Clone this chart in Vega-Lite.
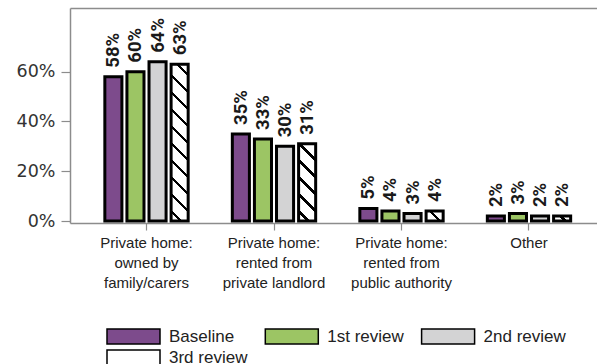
{
  "$schema": "https://vega.github.io/schema/vega-lite/v6.json",
  "autosize": "none",
  "width": 527,
  "height": 215,
  "padding": {"left": 70, "top": 8, "right": 0, "bottom": 141},
  "background": "white",
  "config": {
    "view": {"stroke": null},
    "axis": {"domainColor": "#8c8c8c", "domainWidth": 1.5, "tickColor": "#8c8c8c", "tickWidth": 1.2, "grid": false, "title": null}
  },
  "data": {
    "values": [
      {"cat": "Private home:|owned by|family/carers", "review": "Baseline", "v": 0.58},
      {"cat": "Private home:|owned by|family/carers", "review": "1st review", "v": 0.60},
      {"cat": "Private home:|owned by|family/carers", "review": "2nd review", "v": 0.64},
      {"cat": "Private home:|owned by|family/carers", "review": "3rd review", "v": 0.63},
      {"cat": "Private home:|rented from|private landlord", "review": "Baseline", "v": 0.35},
      {"cat": "Private home:|rented from|private landlord", "review": "1st review", "v": 0.33},
      {"cat": "Private home:|rented from|private landlord", "review": "2nd review", "v": 0.30},
      {"cat": "Private home:|rented from|private landlord", "review": "3rd review", "v": 0.31},
      {"cat": "Private home:|rented from|public authority", "review": "Baseline", "v": 0.05},
      {"cat": "Private home:|rented from|public authority", "review": "1st review", "v": 0.04},
      {"cat": "Private home:|rented from|public authority", "review": "2nd review", "v": 0.03},
      {"cat": "Private home:|rented from|public authority", "review": "3rd review", "v": 0.04},
      {"cat": "Other", "review": "Baseline", "v": 0.02},
      {"cat": "Other", "review": "1st review", "v": 0.03},
      {"cat": "Other", "review": "2nd review", "v": 0.02},
      {"cat": "Other", "review": "3rd review", "v": 0.02}
    ]
  },
  "encoding": {
    "x": {"field": "cat", "type": "nominal", "sort": null,
      "scale": {"paddingInner": 0, "paddingOuter": 0.0667, "align": 0.75}},
    "xOffset": {"field": "review", "type": "nominal",
      "sort": ["Baseline", "1st review", "2nd review", "3rd review"],
      "scale": {"paddingInner": 0.227, "paddingOuter": 1.011}},
    "y": {"field": "v", "type": "quantitative",
      "scale": {"domain": [-0.008, 0.856], "nice": false, "zero": false},
      "axis": {"values": [0, 0.2, 0.4, 0.6], "format": ".0%", "labelFont": "DejaVu Sans", "labelFontSize": 17.5, "labelColor": "#333333", "tickSize": 9, "labelPadding": 6}}
  },
  "layer": [
    {
      "mark": {"type": "bar", "stroke": "black", "strokeWidth": 3, "strokeJoin": "miter"},
      "encoding": {
        "x": {"field": "cat", "type": "nominal", "sort": null,
          "axis": {"orient": "bottom", "labelAngle": 0, "labelExpr": "split(datum.label, '|')", "labelFont": "Liberation Sans", "labelFontSize": 15, "labelLineHeight": 20, "labelColor": "#222222", "tickSize": 7, "labelPadding": 5, "labelBaseline": "top", "labelLimit": 200}},
        "fill": {
          "field": "review", "type": "nominal",
          "scale": {"domain": ["Baseline", "1st review", "2nd review", "3rd review"], "range": ["#7d4b8c", "#9cc564", "#d3d3d4", "#ffffff"]},
          "condition": [
            {"test": "datum.review === '3rd review' && datum.cat === 'Private home:|owned by|family/carers'",
             "value": {"gradient": "linear", "x1": 0, "y1": 1, "x2": 0.1189, "y2": -0.0956, "stops": [
               {"offset": 0, "color": "white"},
               {"offset": 0.0461, "color": "white"}, {"offset": 0.0461, "color": "black"}, {"offset": 0.0662, "color": "black"}, {"offset": 0.0662, "color": "white"},
               {"offset": 0.1439, "color": "white"}, {"offset": 0.1439, "color": "black"}, {"offset": 0.1641, "color": "black"}, {"offset": 0.1641, "color": "white"},
               {"offset": 0.2418, "color": "white"}, {"offset": 0.2418, "color": "black"}, {"offset": 0.2619, "color": "black"}, {"offset": 0.2619, "color": "white"},
               {"offset": 0.3397, "color": "white"}, {"offset": 0.3397, "color": "black"}, {"offset": 0.3598, "color": "black"}, {"offset": 0.3598, "color": "white"},
               {"offset": 0.4375, "color": "white"}, {"offset": 0.4375, "color": "black"}, {"offset": 0.4577, "color": "black"}, {"offset": 0.4577, "color": "white"},
               {"offset": 0.5354, "color": "white"}, {"offset": 0.5354, "color": "black"}, {"offset": 0.5556, "color": "black"}, {"offset": 0.5556, "color": "white"},
               {"offset": 0.6333, "color": "white"}, {"offset": 0.6333, "color": "black"}, {"offset": 0.6534, "color": "black"}, {"offset": 0.6534, "color": "white"},
               {"offset": 0.7311, "color": "white"}, {"offset": 0.7311, "color": "black"}, {"offset": 0.7513, "color": "black"}, {"offset": 0.7513, "color": "white"},
               {"offset": 0.8290, "color": "white"}, {"offset": 0.8290, "color": "black"}, {"offset": 0.8492, "color": "black"}, {"offset": 0.8492, "color": "white"},
               {"offset": 0.9269, "color": "white"}, {"offset": 0.9269, "color": "black"}, {"offset": 0.9470, "color": "black"}, {"offset": 0.9470, "color": "white"},
               {"offset": 1, "color": "white"}]}},
            {"test": "datum.review === '3rd review' && datum.cat === 'Private home:|rented from|private landlord'",
             "value": {"gradient": "linear", "x1": 0, "y1": 1, "x2": 0.2566, "y2": -0.1639, "stops": [
               {"offset": 0, "color": "white"},
               {"offset": 0.0850, "color": "white"}, {"offset": 0.0850, "color": "black"}, {"offset": 0.1222, "color": "black"}, {"offset": 0.1222, "color": "white"},
               {"offset": 0.2657, "color": "white"}, {"offset": 0.2657, "color": "black"}, {"offset": 0.3029, "color": "black"}, {"offset": 0.3029, "color": "white"},
               {"offset": 0.4463, "color": "white"}, {"offset": 0.4463, "color": "black"}, {"offset": 0.4835, "color": "black"}, {"offset": 0.4835, "color": "white"},
               {"offset": 0.6270, "color": "white"}, {"offset": 0.6270, "color": "black"}, {"offset": 0.6642, "color": "black"}, {"offset": 0.6642, "color": "white"},
               {"offset": 0.8077, "color": "white"}, {"offset": 0.8077, "color": "black"}, {"offset": 0.8448, "color": "black"}, {"offset": 0.8448, "color": "white"},
               {"offset": 1, "color": "white"}]}},
            {"test": "datum.review === '3rd review' && datum.cat === 'Private home:|rented from|public authority'",
             "value": {"gradient": "linear", "x1": 0, "y1": 1, "x2": 1.1808, "y2": 0.3089, "stops": [
               {"offset": 0, "color": "white"},
               {"offset": 0.4453, "color": "white"}, {"offset": 0.4453, "color": "black"}, {"offset": 0.5751, "color": "black"}, {"offset": 0.5751, "color": "white"},
               {"offset": 1, "color": "white"}]}},
            {"test": "datum.review === '3rd review' && datum.cat === 'Other'",
             "value": {"gradient": "linear", "x1": 0, "y1": 1, "x2": 1.1907, "y2": 0.6512, "stops": [
               {"offset": 0, "color": "white"},
               {"offset": 0.455, "color": "white"}, {"offset": 0.455, "color": "black"}, {"offset": 0.614, "color": "black"}, {"offset": 0.614, "color": "white"},
               {"offset": 1, "color": "white"}]}}
          ],
          "legend": {
            "orient": "none", "legendX": 36, "legendY": 320, "direction": "horizontal", "columns": 3, "title": null,
            "symbolType": "M-1,-1H6.0667V1H-1Z", "symbolSize": 225,
            "labelFont": "Liberation Sans", "labelFontSize": 17, "labelColor": "#222222", "labelOffset": 46, "labelLimit": 300,
            "columnPadding": 14.3, "rowPadding": 0,
            "symbolStrokeColor": "black", "symbolStrokeWidth": 1.5,
            "encode": {"symbols": {"update": {
              "fill": [
                {"test": "datum.value === '3rd review'", "value": {"gradient": "linear", "x1": 0, "y1": 1, "x2": 1.1835, "y2": 0.6814, "stops": [
                  {"offset": 0, "color": "white"},
                  {"offset": 0.197, "color": "white"}, {"offset": 0.197, "color": "black"}, {"offset": 0.258, "color": "black"}, {"offset": 0.258, "color": "white"},
                  {"offset": 0.409, "color": "white"}, {"offset": 0.409, "color": "black"}, {"offset": 0.470, "color": "black"}, {"offset": 0.470, "color": "white"},
                  {"offset": 0.621, "color": "white"}, {"offset": 0.621, "color": "black"}, {"offset": 0.682, "color": "black"}, {"offset": 0.682, "color": "white"},
                  {"offset": 0.833, "color": "white"}, {"offset": 0.833, "color": "black"}, {"offset": 0.894, "color": "black"}, {"offset": 0.894, "color": "white"},
                  {"offset": 1, "color": "white"}]}},
                {"scale": "fill", "field": "value"}
              ],
              "stroke": {"value": "black"},
              "strokeWidth": {"value": 1.5},
              "opacity": {"value": 1}
            }}}
          }
        }
      }
    },
    {
      "mark": {"type": "text", "angle": 270, "align": "left", "baseline": "middle", "dx": 9, "font": "Roboto", "fontWeight": "bold", "fontSize": 18.5, "color": "#1a1a1a"},
      "encoding": {
        "x": {"field": "cat", "type": "nominal", "sort": null,
          "axis": {"orient": "top", "labels": false, "ticks": false, "domain": true}},
        "text": {"field": "v", "type": "quantitative", "format": ".0%"}
      }
    }
  ],
  "resolve": {"axis": {"x": "independent"}}
}
